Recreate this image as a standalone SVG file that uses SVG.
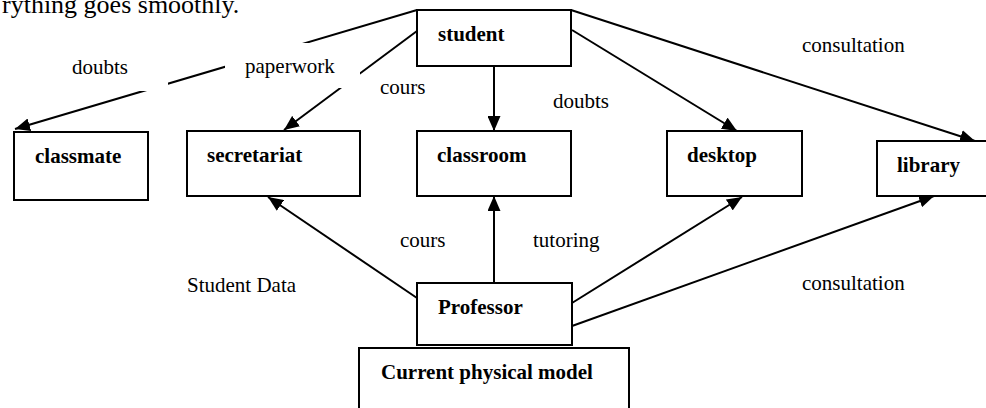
<svg xmlns="http://www.w3.org/2000/svg" width="986" height="408" viewBox="0 0 986 408">
<defs>
<marker id="arr" markerUnits="userSpaceOnUse" markerWidth="16" markerHeight="13" refX="15" refY="6.5" orient="auto">
<path d="M0,0 L15,6.5 L0,13 z" fill="#000"/>
</marker>
<style>
.box{fill:#fff;stroke:#000;stroke-width:2}
.lbl{font-family:"Liberation Serif","Times New Roman",serif;font-size:21px;fill:#000}
.nt{font-family:"Liberation Serif","Times New Roman",serif;font-size:21px;font-weight:bold;fill:#000}
.ln{fill:none;stroke:#000;stroke-width:2;marker-end:url(#arr)}
.bg{fill:#fff;stroke:none}
</style>
</defs>
<rect width="986" height="408" fill="#fff"/>
<text x="2" y="13" font-family="Liberation Serif, Times New Roman, serif" font-size="26" fill="#000">rything goes smoothly.</text>
<g id="connectors">
<line class="ln" x1="417" y1="10" x2="15" y2="129"/>
<line class="ln" x1="417" y1="31" x2="284" y2="130"/>
<line class="ln" x1="494" y1="66" x2="494" y2="131"/>
<line class="ln" x1="572" y1="30" x2="737" y2="131"/>
<line class="ln" x1="571" y1="10" x2="975" y2="141"/>
<line class="ln" x1="417" y1="298" x2="268" y2="197"/>
<line class="ln" x1="494" y1="283" x2="494" y2="196"/>
<line class="ln" x1="572" y1="303" x2="742" y2="197"/>
<line class="ln" x1="572" y1="326" x2="934" y2="196"/>
</g>
<g id="labels">
<rect class="bg" x="55" y="45" width="113" height="46"/>
<text class="lbl" x="72" y="74">doubts</text>
<rect class="bg" x="225" y="43" width="135" height="45"/>
<text class="lbl" x="245" y="73">paperwork</text>
<text class="lbl" x="380" y="94">cours</text>
<text class="lbl" x="553" y="108">doubts</text>
<text class="lbl" x="802" y="52">consultation</text>
<text class="lbl" x="400" y="247">cours</text>
<text class="lbl" x="533" y="247">tutoring</text>
<text class="lbl" x="187" y="292">Student Data</text>
<text class="lbl" x="802" y="290">consultation</text>
</g>
<g id="student"><rect class="box" x="417" y="10" width="154" height="56"/><text class="nt" x="438" y="41">student</text></g>
<g id="classmate"><rect class="box" x="14" y="132" width="134" height="68"/><text class="nt" x="35" y="163">classmate</text></g>
<g id="secretariat"><rect class="box" x="187" y="131" width="173" height="65"/><text class="nt" x="207" y="162">secretariat</text></g>
<g id="classroom"><rect class="box" x="417" y="131" width="154" height="65"/><text class="nt" x="437" y="162">classroom</text></g>
<g id="desktop"><rect class="box" x="667" y="131" width="135" height="65"/><text class="nt" x="687" y="162">desktop</text></g>
<g id="library"><rect class="box" x="877" y="141" width="120" height="55"/><text class="nt" x="897" y="172">library</text></g>
<g id="professor"><rect class="box" x="417" y="283" width="155" height="62"/><text class="nt" x="438" y="314">Professor</text></g>
<g id="current-physical-model"><rect class="box" x="359" y="348" width="270" height="80"/><text class="nt" x="381" y="379">Current physical model</text></g>
</svg>
